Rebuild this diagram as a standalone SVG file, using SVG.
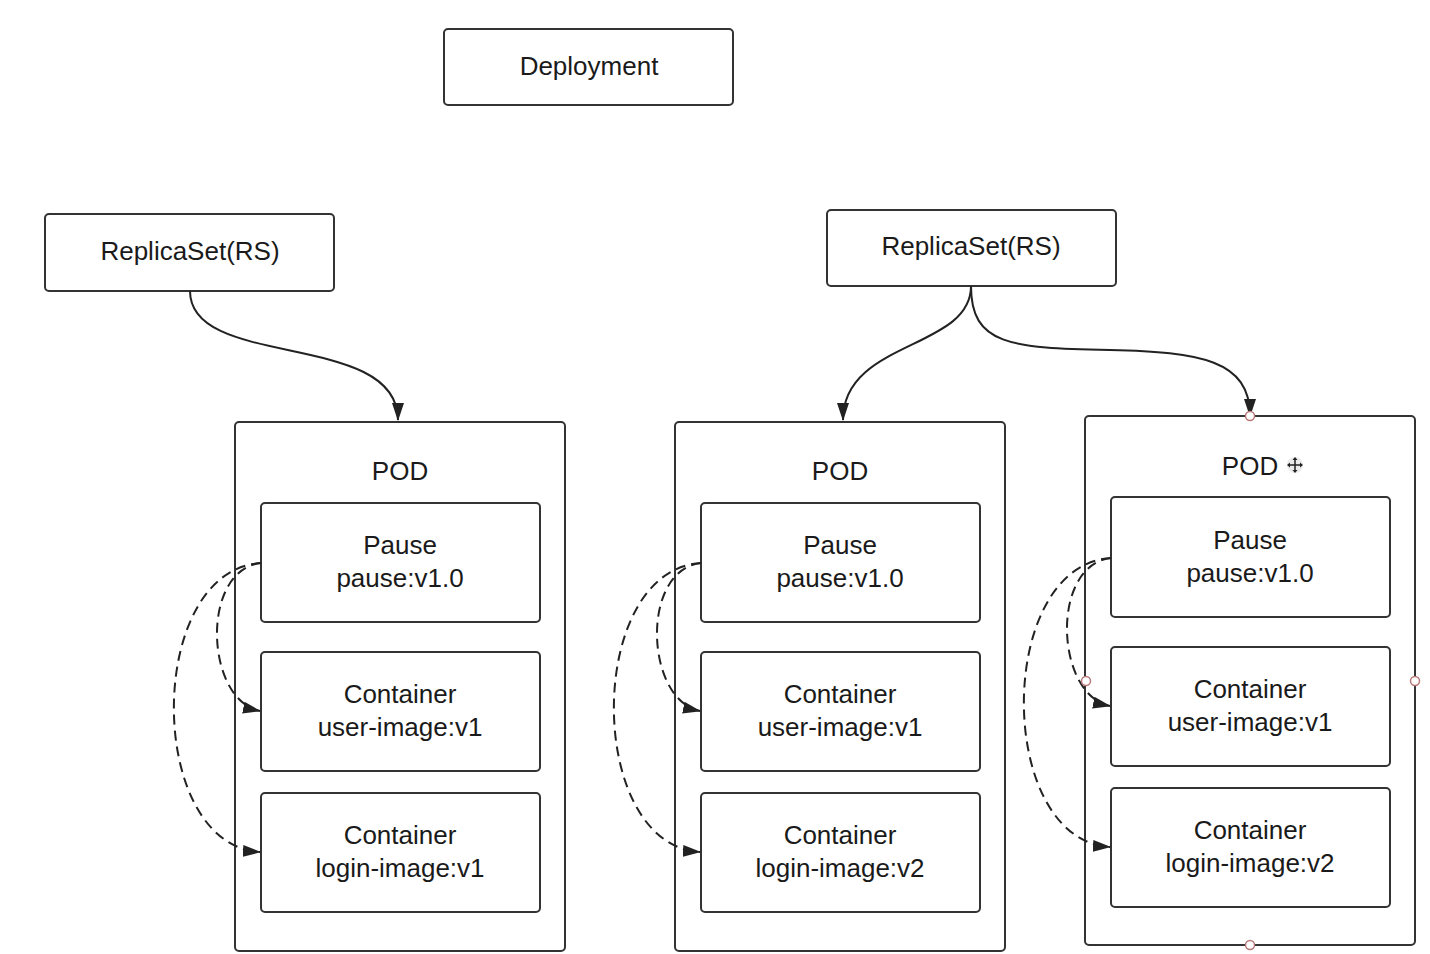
<svg xmlns="http://www.w3.org/2000/svg" width="1430" height="954" viewBox="0 0 1430 954">
<style>
.box{fill:#fff;stroke:#333;stroke-width:2}
.t{font-family:"Liberation Sans",Arial,sans-serif;font-size:26px;fill:#1a1a1a;text-anchor:middle}
.c{fill:none;stroke:#222;stroke-width:2}
.d{fill:none;stroke:#222;stroke-width:2;stroke-dasharray:10,6}
.h{fill:#fff;stroke:#b77;stroke-width:1.5}
</style>
<defs>
<marker id="ar" viewBox="0 0 18 12" refX="17" refY="6" markerWidth="18" markerHeight="12" markerUnits="userSpaceOnUse" orient="auto">
<path d="M0,0 L18,6 L0,12 Z" fill="#222"/>
</marker>
</defs>
<rect width="1430" height="954" fill="#fff"/>
<g id="deployment"><rect class="box" x="444" y="29" width="289" height="76" rx="4"/><text class="t" x="589" y="75">Deployment</text></g>
<g id="rs1"><rect class="box" x="45" y="214" width="289" height="77" rx="4"/><text class="t" x="190" y="260">ReplicaSet(RS)</text></g>
<g id="rs2"><rect class="box" x="827" y="210" width="289" height="76" rx="4"/><text class="t" x="971" y="255">ReplicaSet(RS)</text></g>

<g id="pod1">
<rect class="box" x="235" y="422" width="330" height="529" rx="4"/>
<text class="t" x="400" y="480">POD</text>
<rect class="box" x="261" y="503" width="279" height="119" rx="4"/>
<text class="t" x="400" y="554">Pause</text><text class="t" x="400" y="587">pause:v1.0</text>
<rect class="box" x="261" y="652" width="279" height="119" rx="4"/>
<text class="t" x="400" y="703">Container</text><text class="t" x="400" y="736">user-image:v1</text>
<rect class="box" x="261" y="793" width="279" height="119" rx="4"/>
<text class="t" x="400" y="844">Container</text><text class="t" x="400" y="877">login-image:v1</text>
</g>
<g id="pod2">
<rect class="box" x="675" y="422" width="330" height="529" rx="4"/>
<text class="t" x="840" y="480">POD</text>
<rect class="box" x="701" y="503" width="279" height="119" rx="4"/>
<text class="t" x="840" y="554">Pause</text><text class="t" x="840" y="587">pause:v1.0</text>
<rect class="box" x="701" y="652" width="279" height="119" rx="4"/>
<text class="t" x="840" y="703">Container</text><text class="t" x="840" y="736">user-image:v1</text>
<rect class="box" x="701" y="793" width="279" height="119" rx="4"/>
<text class="t" x="840" y="844">Container</text><text class="t" x="840" y="877">login-image:v2</text>
</g>
<g id="pod3">
<rect class="box" x="1085" y="416" width="330" height="529" rx="4"/>
<text class="t" x="1250" y="475">POD</text>
<rect class="box" x="1111" y="497" width="279" height="120" rx="4"/>
<text class="t" x="1250" y="549">Pause</text><text class="t" x="1250" y="582">pause:v1.0</text>
<rect class="box" x="1111" y="647" width="279" height="119" rx="4"/>
<text class="t" x="1250" y="698">Container</text><text class="t" x="1250" y="731">user-image:v1</text>
<rect class="box" x="1111" y="788" width="279" height="119" rx="4"/>
<text class="t" x="1250" y="839">Container</text><text class="t" x="1250" y="872">login-image:v2</text>
</g>

<g id="connectors">
<path class="c" marker-end="url(#ar)" d="M190,291 C190,370 398,330 398,420"/>
<path class="c" marker-end="url(#ar)" d="M971,286 C971,350 843,340 843,420"/>
<path class="c" marker-end="url(#ar)" d="M971,286 C971,345 1010,348 1110,350 C1200,352 1250,360 1250,416"/>
<path class="d" marker-end="url(#ar)" d="M261,563 C200,570 205,700 260,711"/>
<path class="d" marker-end="url(#ar)" d="M261,563 C145,570 145,845 260,852"/>
<path class="d" marker-end="url(#ar)" d="M701,563 C640,570 645,700 700,711"/>
<path class="d" marker-end="url(#ar)" d="M701,563 C585,570 585,845 700,852"/>
<path class="d" marker-end="url(#ar)" d="M1111,558 C1050,565 1055,695 1110,706"/>
<path class="d" marker-end="url(#ar)" d="M1111,558 C995,565 995,840 1110,847"/>
</g>

<g id="handles">
<circle class="h" cx="1250" cy="416" r="4.5"/>
<circle class="h" cx="1086" cy="681" r="4.5"/>
<circle class="h" cx="1415" cy="681" r="4.5"/>
<circle class="h" cx="1250" cy="945" r="4.5"/>
<g id="move-cursor" transform="translate(1295,465)">
<circle r="8" fill="#ddd" opacity="0.6"/>
<path d="M-6,0 H6 M0,-6 V6" stroke="#222" stroke-width="1.5"/>
<path d="M0,-8 L-2.5,-5 H2.5 Z M0,8 L-2.5,5 H2.5 Z M-8,0 L-5,-2.5 V2.5 Z M8,0 L5,-2.5 V2.5 Z" fill="#222"/>
</g>
</g>
</svg>
